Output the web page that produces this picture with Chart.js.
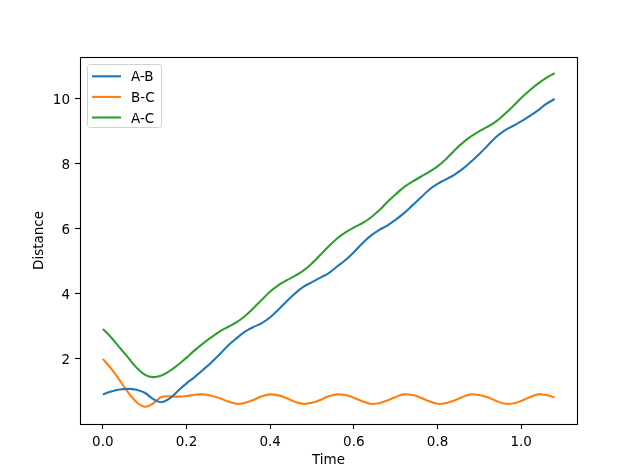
<!DOCTYPE html>
<html>
<head>
<meta charset="utf-8">
<script src="https://cdn.jsdelivr.net/npm/chart.js@4.4.0/dist/chart.umd.min.js"></script>
<style>
  html, body { margin: 0; padding: 0; background: #fff; }
  canvas { display: block; }
</style>
</head>
<body>
<canvas id="distanceChart" width="640" height="476"></canvas>
<script>
// sample times
const times = [
  0.00, 0.02, 0.04, 0.06, 0.08, 0.10, 0.12, 0.14, 0.16, 0.18,
  0.20, 0.22, 0.24, 0.26, 0.28, 0.30, 0.32, 0.34, 0.36, 0.38,
  0.40, 0.42, 0.44, 0.46, 0.48, 0.50, 0.52, 0.54, 0.56, 0.58,
  0.60, 0.62, 0.64, 0.66, 0.68, 0.70, 0.72, 0.74, 0.76, 0.78,
  0.80, 0.82, 0.84, 0.86, 0.88, 0.90, 0.92, 0.94, 0.96, 0.98,
  1.00, 1.02, 1.04, 1.06, 1.08
];

const distAB = [
  0.91, 1.00, 1.06, 1.08, 1.05, 0.96, 0.77, 0.67, 0.79, 1.02,
  1.25, 1.45, 1.67, 1.90, 2.15, 2.42, 2.64, 2.84, 2.98, 3.10,
  3.28, 3.52, 3.78, 4.02, 4.22, 4.36, 4.50, 4.64, 4.84, 5.04,
  5.28, 5.55, 5.78, 5.96, 6.10, 6.28, 6.48, 6.72, 6.96, 7.20,
  7.38, 7.52, 7.66, 7.84, 8.06, 8.30, 8.56, 8.82, 9.02, 9.16,
  9.30, 9.46, 9.64, 9.84, 9.99
];

const distBC = [
  2.00, 1.70, 1.35, 0.98, 0.68, 0.53, 0.63, 0.83, 0.85, 0.84,
  0.86, 0.90, 0.91, 0.87, 0.79, 0.69, 0.62, 0.65, 0.74, 0.85,
  0.91, 0.88, 0.79, 0.68, 0.62, 0.65, 0.74, 0.85, 0.91, 0.89,
  0.81, 0.70, 0.62, 0.64, 0.72, 0.83, 0.91, 0.89, 0.81, 0.70,
  0.62, 0.64, 0.72, 0.83, 0.91, 0.89, 0.82, 0.71, 0.63, 0.63,
  0.71, 0.82, 0.91, 0.89, 0.82
];

const distAC = [
  2.92, 2.66, 2.35, 2.05, 1.74, 1.52, 1.44, 1.49, 1.63, 1.82,
  2.04, 2.27, 2.48, 2.67, 2.85, 2.99, 3.13, 3.32, 3.56, 3.82,
  4.07, 4.27, 4.42, 4.56, 4.72, 4.94, 5.20, 5.46, 5.70, 5.89,
  6.04, 6.17, 6.34, 6.56, 6.82, 7.06, 7.28, 7.45, 7.60, 7.75,
  7.92, 8.14, 8.40, 8.64, 8.84, 9.00, 9.14, 9.30, 9.52, 9.76,
  10.02, 10.25, 10.46, 10.64, 10.78
];

const seriesLabels = ['A-B', 'B-C', 'A-C'];
const seriesColors = ['#1f77b4', '#ff7f0e', '#2ca02c'];
const xTicks = [0.0, 0.2, 0.4, 0.6, 0.8, 1.0];
const yTicks = [2, 4, 6, 8, 10];

const FONT = 'DejaVu Sans';

function toPoints(values) {
  return values.map((v, i) => ({ x: times[i], y: v }));
}

// full box around the plot, like matplotlib spines
const frameBox = {
  id: 'frameBox',
  afterDraw(chart) {
    const { ctx, chartArea } = chart;
    const l = Math.round(chartArea.left) + 0.5;
    const t = Math.round(chartArea.top) + 0.5;
    const r = Math.round(chartArea.right) + 0.5;
    const b = Math.round(chartArea.bottom) + 0.5;
    ctx.save();
    ctx.strokeStyle = '#000';
    ctx.lineWidth = 1.1;
    ctx.strokeRect(l, t, r - l, b - t);
    ctx.restore();
  }
};

// legend drawn inside the plot, upper left
const innerLegend = {
  id: 'innerLegend',
  afterDraw(chart) {
    const { ctx, chartArea } = chart;
    const x = chartArea.left + 7.5;
    const y = chartArea.top + 7.5;
    const w = 74;
    const h = 63;
    ctx.save();
    ctx.beginPath();
    ctx.roundRect(x, y, w, h, 3);
    ctx.fillStyle = 'rgba(255,255,255,0.8)';
    ctx.fill();
    ctx.strokeStyle = 'rgba(204,204,204,0.9)';
    ctx.lineWidth = 1;
    ctx.stroke();

    ctx.font = '13.5px "' + FONT + '"';
    ctx.textBaseline = 'middle';
    ctx.textAlign = 'left';
    chart.data.datasets.forEach((ds, i) => {
      const rowY = y + 11.8 + i * 20.6;
      ctx.beginPath();
      ctx.moveTo(x + 4.5, rowY);
      ctx.lineTo(x + 33.5, rowY);
      ctx.strokeStyle = ds.borderColor;
      ctx.lineWidth = 2.1;
      ctx.stroke();
      ctx.fillStyle = '#000';
      ctx.fillText(ds.label, x + 43.5, rowY + 1.5);
    });
    ctx.restore();
  }
};

const datasets = [distAB, distBC, distAC].map((values, i) => ({
  label: seriesLabels[i],
  data: toPoints(values),
  borderColor: seriesColors[i],
  backgroundColor: seriesColors[i],
  borderWidth: 2.1,
  pointRadius: 0,
  tension: 0.4,
  fill: false,
}));

new Chart(document.getElementById('distanceChart'), {
  type: 'line',
  data: { datasets },
  options: {
    responsive: false,
    animation: false,
    layout: {
      padding: { top: 57, right: 63, left: 0, bottom: 0 },
    },
    plugins: {
      legend: { display: false },
      tooltip: { enabled: false },
    },
    scales: {
      x: {
        type: 'linear',
        min: -0.0546,
        max: 1.1334,
        afterBuildTicks: scale => {
          scale.ticks = xTicks.map(v => ({ value: v }));
        },
        afterFit: scale => {
          scale.height = 52;
        },
        ticks: {
          color: '#000',
          padding: 5,
          maxRotation: 0,
          font: { family: FONT, size: 13.5 },
          callback: v => Number(v).toFixed(1),
        },
        grid: {
          display: true,
          drawOnChartArea: false,
          drawTicks: true,
          tickLength: 5,
          tickColor: '#000',
          tickWidth: 1.1,
        },
        border: { display: false },
        title: {
          display: true,
          text: 'Time',
          color: '#000',
          font: { family: FONT, size: 13.5 },
          padding: { top: 0, bottom: 7 },
        },
      },
      y: {
        type: 'linear',
        min: 0,
        max: 11.28,
        afterBuildTicks: scale => {
          scale.ticks = yTicks.map(v => ({ value: v }));
        },
        afterFit: scale => {
          scale.width = 80;
        },
        ticks: {
          color: '#000',
          padding: 5,
          labelOffset: 1.5,
          font: { family: FONT, size: 13.5 },
          callback: v => String(v),
        },
        grid: {
          display: true,
          drawOnChartArea: false,
          drawTicks: true,
          tickLength: 5,
          tickColor: '#000',
          tickWidth: 1.1,
        },
        border: { display: false },
        title: {
          display: true,
          text: 'Distance',
          color: '#000',
          font: { family: FONT, size: 13.5 },
          padding: { top: 31, bottom: 0 },
        },
      },
    },
  },
  plugins: [frameBox, innerLegend],
});
</script>
</body>
</html>
